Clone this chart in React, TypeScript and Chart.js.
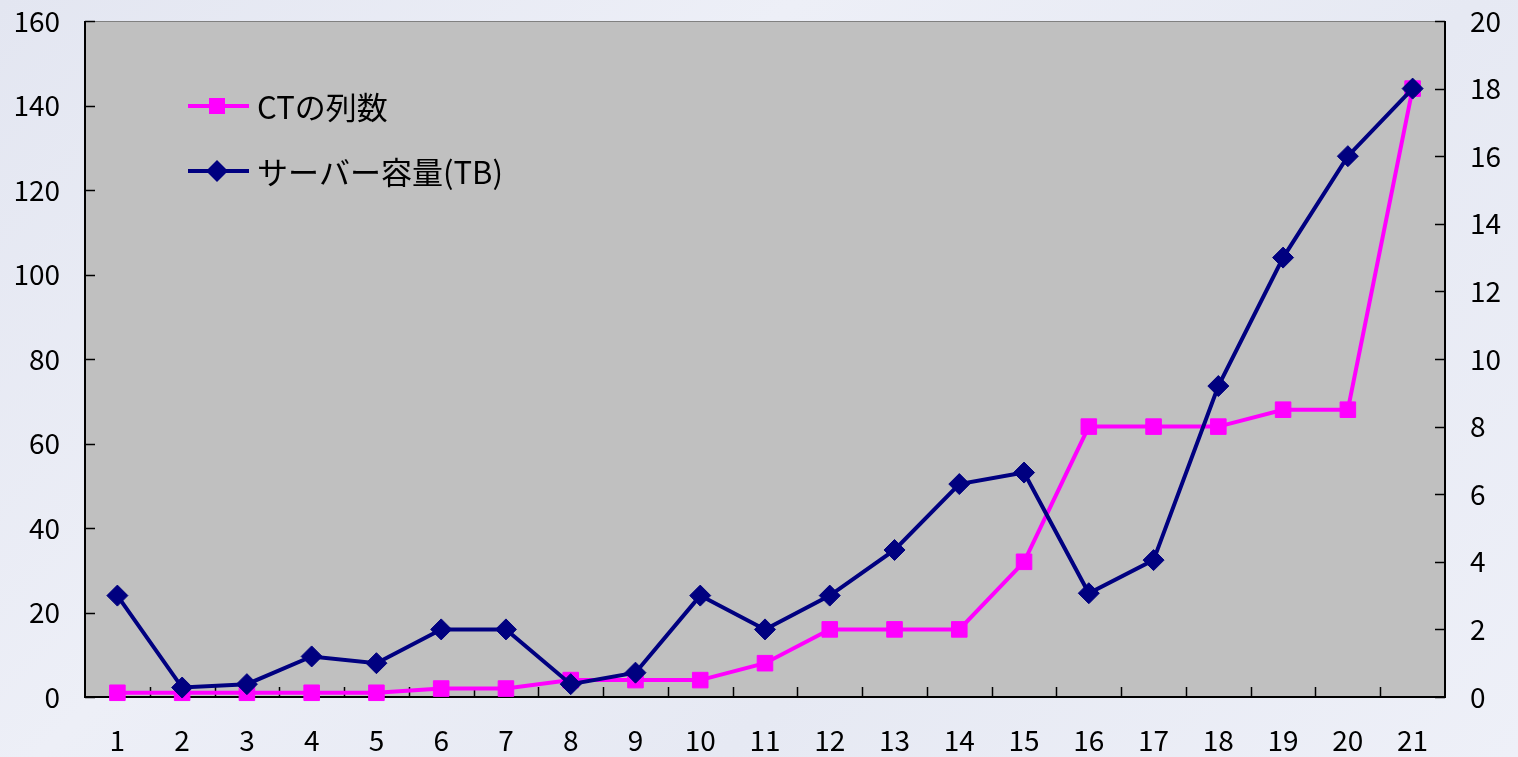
import React, { useEffect, useRef } from "react";
import { Chart, registerables } from "chart.js";

Chart.register(...registerables);

const categories = ["1","2","3","4","5","6","7","8","9","10","11","12","13","14","15","16","17","18","19","20","21"];
const ctColumns = [1, 1, 1, 1, 1, 2, 2, 4, 4, 4, 8, 16, 16, 16, 32, 64, 64, 64, 68, 68, 144];
const serverTB = [3, 0.28, 0.38, 1.2, 1.0, 2, 2, 0.38, 0.72, 3, 2, 3, 4.35, 6.3, 6.64, 3.07, 4.05, 9.2, 13, 16, 18];
const ctLabel = "CTの列数";
const serverLabel = "サーバー容量(TB)";
const leftMax = 160;
const leftStep = 20;
const rightMax = 20;
const rightStep = 2;

const PINK = "#FF00FF";
const NAVY = "#000080";
const FONT = '"Noto Sans CJK JP", "Noto Sans", sans-serif';

const framePlugin = {
  id: "frame",
  beforeDraw(chart: any) {
    const { ctx, chartArea: a } = chart;
    ctx.save();
    ctx.fillStyle = "#C0C0C0";
    ctx.fillRect(a.left, a.top, a.right - a.left, a.bottom - a.top);
    ctx.restore();
  },
  beforeDatasetsDraw(chart: any) {
    const { ctx, chartArea: a, scales } = chart;
    ctx.save();
    ctx.strokeStyle = "#808080";
    ctx.lineWidth = 1;
    ctx.beginPath();
    ctx.moveTo(a.left, a.top + 0.5);
    ctx.lineTo(a.right, a.top + 0.5);
    ctx.stroke();
    ctx.strokeStyle = "#000000";
    ctx.lineWidth = 2;
    ctx.beginPath();
    ctx.moveTo(a.left, a.top);
    ctx.lineTo(a.left, a.bottom);
    ctx.lineTo(a.right, a.bottom);
    ctx.lineTo(a.right, a.top);
    ctx.stroke();
    ctx.lineWidth = 1.5;
    const tl = 10;
    ctx.beginPath();
    const yl = scales.y;
    yl.ticks.forEach((t: any) => {
      const py = Math.round(yl.getPixelForValue(t.value)) + 0.5;
      ctx.moveTo(a.left, py);
      ctx.lineTo(a.left + tl, py);
    });
    const yr = scales.y1;
    yr.ticks.forEach((t: any) => {
      const py = Math.round(yr.getPixelForValue(t.value)) + 0.5;
      ctx.moveTo(a.right, py);
      ctx.lineTo(a.right - tl, py);
    });
    const xs = scales.x;
    for (let i = 1; i < categories.length; i++) {
      const px = Math.round((xs.getPixelForTick(i - 1) + xs.getPixelForTick(i)) / 2) + 0.5;
      ctx.moveTo(px, a.bottom);
      ctx.lineTo(px, a.bottom - tl);
    }
    ctx.stroke();
    ctx.restore();
  },
  afterDraw(chart: any) {
    const { ctx } = chart;
    ctx.save();
    const rows = [
      { label: ctLabel, color: PINK, y: 106, shape: "rect" },
      { label: serverLabel, color: NAVY, y: 171, shape: "diamond" },
    ];
    rows.forEach((r) => {
      ctx.strokeStyle = r.color;
      ctx.fillStyle = r.color;
      ctx.lineWidth = 4;
      ctx.beginPath();
      ctx.moveTo(188, r.y);
      ctx.lineTo(249, r.y);
      ctx.stroke();
      const cx = 217;
      if (r.shape === "rect") {
        ctx.fillRect(cx - 8, r.y - 8, 16, 16);
      } else {
        ctx.beginPath();
        ctx.moveTo(cx - 11, r.y);
        ctx.lineTo(cx, r.y - 11);
        ctx.lineTo(cx + 11, r.y);
        ctx.lineTo(cx, r.y + 11);
        ctx.closePath();
        ctx.fill();
      }
      ctx.fillStyle = "#000000";
      ctx.font = `31px ${FONT}`;
      ctx.textBaseline = "middle";
      ctx.textAlign = "left";
      ctx.fillText(r.label, 257, r.y + 1);
    });
    ctx.restore();
  },
};

export default function App() {
  const canvasRef = useRef<HTMLCanvasElement | null>(null);

  useEffect(() => {
    document.body.style.margin = "0";
    const canvas = canvasRef.current;
    if (!canvas) return;
    const tickFont = { family: FONT, size: 28 };
    const fitY = (w: number) => (s: any) => {
      s.width = w;
      s.paddingTop = 0;
      s.paddingBottom = 0;
    };
    const chart = new Chart(canvas, {
      type: "line",
      data: {
        labels: categories,
        datasets: [
          {
            label: serverLabel,
            data: serverTB,
            yAxisID: "y1",
            borderColor: NAVY,
            backgroundColor: NAVY,
            borderWidth: 4,
            pointStyle: "rectRot",
            pointRadius: 10.5,
            pointBorderWidth: 1,
            pointBorderColor: NAVY,
            pointBackgroundColor: NAVY,
            tension: 0,
            clip: false,
            order: 0,
          },
          {
            label: ctLabel,
            data: ctColumns,
            yAxisID: "y",
            borderColor: PINK,
            backgroundColor: PINK,
            borderWidth: 4,
            pointStyle: "rect",
            pointRadius: 11,
            pointBorderWidth: 1,
            pointBorderColor: PINK,
            pointBackgroundColor: PINK,
            tension: 0,
            clip: false,
            order: 1,
          },
        ],
      },
      options: {
        animation: false,
        responsive: true,
        maintainAspectRatio: false,
        layout: { padding: { top: 21, left: 0, right: 0, bottom: 0 } },
        plugins: { legend: { display: false }, tooltip: { enabled: false } },
        scales: {
          x: {
            type: "category",
            offset: true,
            grid: { display: false, drawTicks: false, offset: true },
            border: { display: false },
            ticks: { color: "#000", font: tickFont, padding: 27, maxRotation: 0, autoSkip: false },
            afterFit: (s: any) => {
              s.height = 60;
              s.paddingLeft = 0;
              s.paddingRight = 0;
            },
          },
          y: {
            position: "left",
            min: 0,
            max: leftMax,
            grid: { display: false, drawTicks: false },
            border: { display: false },
            ticks: { stepSize: leftStep, color: "#000", font: tickFont, padding: 25 },
            afterFit: fitY(85),
          },
          y1: {
            position: "right",
            min: 0,
            max: rightMax,
            grid: { display: false, drawTicks: false },
            border: { display: false },
            ticks: { stepSize: rightStep, color: "#000", font: tickFont, padding: 25 },
            afterFit: fitY(73),
          },
        },
      },
      plugins: [framePlugin],
    });
    return () => chart.destroy();
  }, []);

  return (
    <div
      style={{
        position: "fixed",
        left: 0,
        top: 0,
        width: "100vw",
        height: "100vh",
        background: "linear-gradient(135deg, #E3E6F1 0%, #EDEFF7 35%, #E6E9F3 65%, #EEF0F8 100%)",
      }}
    >
      <canvas ref={canvasRef} />
    </div>
  );
}
